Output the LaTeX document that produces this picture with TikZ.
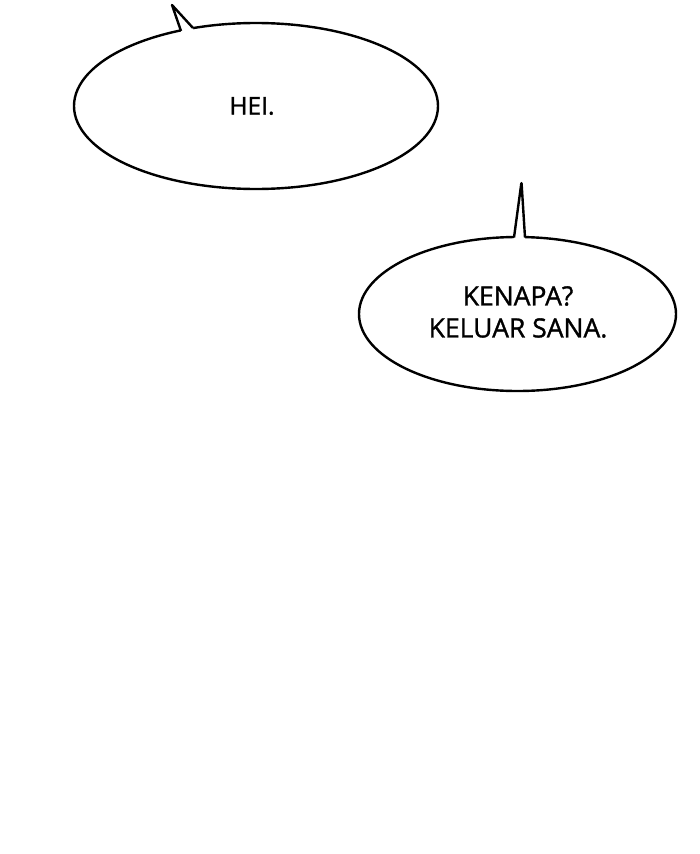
\documentclass[tikz,border=0pt]{standalone}
\usepackage{fontspec}
\setmainfont{Open Sans}
\newfontfamily\bubblefont[FakeBold=1.2]{Open Sans}
\usetikzlibrary{shapes.geometric}
\tikzset{
    bubble/.style={draw, line width=2.4pt, ellipse, fill=white, inner sep=0pt},
    tail/.style={line width=2.4pt, line join=round},
    says/.style={align=center, font=\bubblefont\fontsize{24.5}{32}\selectfont}
}

\begin{document}
\begin{tikzpicture}[x=1pt, y=-1pt]
    \useasboundingbox [fill=white] (0,0) rectangle (700,854);

    % balon pertama
    \node [bubble, minimum width=364pt, minimum height=166pt] (hei) at (256,106) {};
    \node [says] (heitxt) at (252,106) {HEI.};
    \fill [white] (181,31) -- (172,5) -- (193,28) -- (193,36) -- (181,38) -- cycle;
    \draw [tail] (181,31) -- (172,5) -- (193,28);

    % balon kedua
    \node [bubble, minimum width=317pt, minimum height=154pt] (kenapa) at (517.5,314) {};
    \node [says, font=\bubblefont\fontsize{26.5}{32}\selectfont] (kenapatxt) at (518,312) {KENAPA?\\KELUAR SANA.};
    \fill [white] (514,237.5) -- (521.5,182) -- (525,237.5) -- (525,244) -- (514,244) -- cycle;
    \draw [tail, rounded corners=2pt] (514,237.5) -- (521.5,182) -- (525,237.5);
\end{tikzpicture}
\end{document}
